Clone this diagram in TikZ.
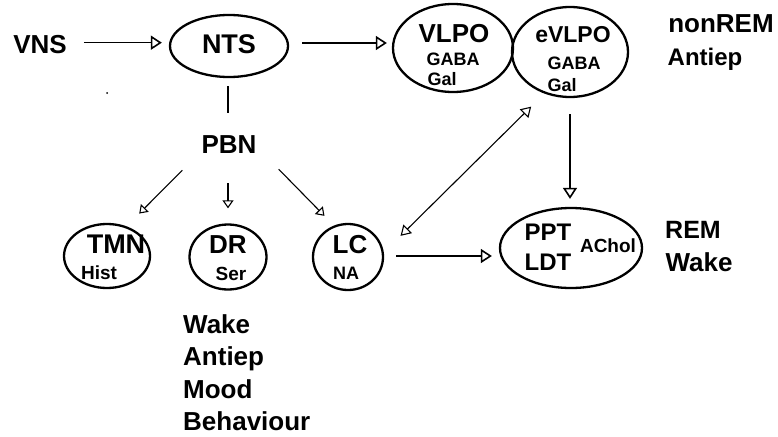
\documentclass[tikz,border=0pt]{standalone}
\usepackage{fontspec}
\setmainfont{Liberation Sans}
\usetikzlibrary{arrows.meta,shapes.geometric,calc}
\begin{document}
\begin{tikzpicture}[x=1pt,y=-1pt,
  txt/.style={inner sep=0pt, anchor=base, text depth=0pt},
  fs/.style={font=\bfseries\fontsize{#1}{#1}\selectfont, text height={0.716*#1pt}},
  ell/.style={draw, ellipse, line width=2.3pt, inner sep=0pt},
  tip/.style={-{Triangle[open,length=11pt,width=14pt]}},
  arr/.style={line width=1.6pt, tip},
  thin/.style={line width=1.1pt, -{Triangle[open,length=8pt,width=11pt]}},
  both/.style={line width=1.1pt, {Triangle[open,length=10pt,width=12pt]}-{Triangle[open,length=10pt,width=12pt]}}
]
\useasboundingbox (0,0) rectangle (778,436);
% ellipses
\node[ell, minimum width=118pt, minimum height=62pt] (nts) at (229,46) {};
\node[ell, minimum width=120pt, minimum height=88pt] (vlpo) at (453,48) {};
\node[ell, minimum width=116pt, minimum height=90pt] (evlpo) at (570,52) {};
\node[ell, minimum width=86pt, minimum height=64pt] (tmn) at (107,256) {};
\node[ell, minimum width=77pt, minimum height=65pt] (dr) at (228,257) {};
\node[ell, minimum width=70pt, minimum height=66pt] (lc) at (348,257) {};
\node[ell, minimum width=142pt, minimum height=80pt] (ppt) at (571,248) {};
% texts
\node[txt, fs=26] (vns) at (40,53) {VNS};
\node[txt, fs=27] (ntst) at (229,54) {NTS};
\node[txt, fs=26] (pbn) at (229,153) {PBN};
\node[txt, fs=27] (tmnt) at (116,253) {TMN};
\node[txt, fs=19] (hist) at (99,279) {Hist};
\node[txt, fs=26] (drt) at (228,253) {DR};
\node[txt, fs=19] (ser) at (231,280) {Ser};
\node[txt, fs=26] (lct) at (350,253) {LC};
\node[txt, fs=18] (na) at (346,279) {NA};
\node[txt, fs=26] (vlpot) at (454,42) {VLPO};
\node[txt, fs=18] (gaba1) at (453,65) {GABA};
\node[txt, fs=18] (gal1) at (442,85) {Gal};
\node[txt, fs=23] (evlpot) at (573,43) {eVLPO};
\node[txt, fs=18] (gaba2) at (574,70) {GABA};
\node[txt, fs=18] (gal2) at (562,91) {Gal};
\node[txt, fs=26] (nonrem) at (721,33) {nonREM};
\node[txt, fs=24] (antiep1) at (705,65) {Antiep};
\node[txt, fs=24] (pptt) at (548,240) {PPT};
\node[txt, fs=24] (ldt) at (548,270) {LDT};
\node[txt, fs=19] (achol) at (608,252) {AChol};
\node[txt, fs=25] (rem) at (693,238) {REM};
\node[txt, fs=26] (wake1) at (699,271) {Wake};
\node[txt, fs=26, anchor=base west] (wake2) at (183,333) {Wake};
\node[txt, fs=26, anchor=base west] (antiep2) at (183,365) {Antiep};
\node[txt, fs=26, anchor=base west] (mood) at (183,398) {Mood};
\node[txt, fs=26, anchor=base west] (behav) at (183,430) {Behaviour};
% stray dot
\fill (107,93) circle (1pt);
% connectors
\draw[arr] ($(vns.east)+(17,-1)$) -- ($(vns.east -| nts.west)+(-7,-1)$);
\draw[arr] ($(nts.east)+(13,-3)$) -- ($(nts.east -| vlpo.west)+(-5,-3)$);
\draw[line width=1.6pt] ($(nts.south)+(-1,8)$) -- ($(nts.south)+(-1,35)$);
\draw[thin] ($(pbn.south west)+(-19,17)$) -- ($(tmn.north east)+(1,-19)$);
\draw[thin] ($(pbn.south)+(-1,30)$) -- ($(dr.north)+(0,-15)$);
\draw[thin] ($(pbn.south east)+(22,16)$) -- ($(lc.north west)+(2,-17)$);
\draw[arr] ($(lc.east)+(12,-1)$) -- ($(lc.east -| ppt.west)+(-7,-1)$);
\draw[both] ($(lc.north east)+(27,3)$) -- ($(evlpo.south west)+(3,22)$);
\draw[arr] ($(evlpo.south)+(0,16)$) -- ($(ppt.north)+(-1,-8)$);
\end{tikzpicture}
\end{document}
